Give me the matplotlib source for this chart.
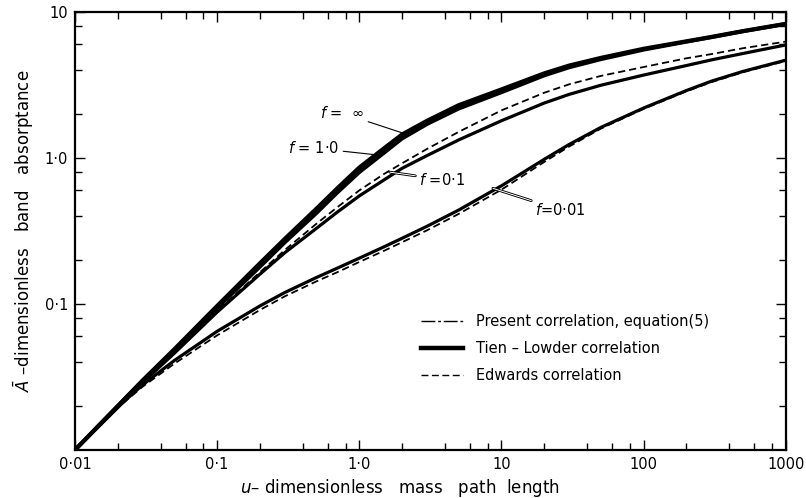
"""Band absorptance vs mass path length: present correlation vs Tien-Lowder and Edwards."""

import matplotlib

matplotlib.use("Agg")
import matplotlib.pyplot as plt
import matplotlib.patheffects as pe
from matplotlib.lines import Line2D
from matplotlib.ticker import FixedLocator, LogLocator, NullFormatter

# dimensionless mass path length u
U = [0.01, 0.02, 0.03, 0.05, 0.1, 0.2, 0.3, 0.5, 0.7, 1, 1.5, 2, 3, 5, 10, 20, 30, 50, 100, 200, 300, 500, 1000]

# band absorptance
A_F_INF = [0.01, 0.02, 0.03, 0.049, 0.097, 0.19, 0.28, 0.45, 0.62, 0.86, 1.17, 1.45, 1.8, 2.3,
           2.95, 3.8, 4.3, 4.85, 5.6, 6.3, 6.75, 7.4, 8.3]
A_F_1 = [0.01, 0.02, 0.03, 0.048, 0.094, 0.18, 0.265, 0.42, 0.58, 0.8, 1.09, 1.36, 1.71, 2.18,
         2.82, 3.68, 4.18, 4.75, 5.52, 6.26, 6.72, 7.38, 8.28]
A_F_01_EDWARDS = [0.01, 0.0195, 0.029, 0.047, 0.09, 0.165, 0.235, 0.355, 0.46, 0.6, 0.78, 0.92, 1.155, 1.51,
                  2.12, 2.8, 3.2, 3.65, 4.2, 4.82, 5.15, 5.65, 6.27]
A_F_01 = [0.01, 0.0195, 0.029, 0.046, 0.088, 0.16, 0.225, 0.33, 0.426, 0.55, 0.71, 0.85, 1.04, 1.33,
          1.8, 2.38, 2.73, 3.15, 3.7, 4.3, 4.7, 5.2, 5.95]
A_F_001 = [0.01, 0.0197, 0.028, 0.041, 0.065, 0.097, 0.12, 0.152, 0.176, 0.206, 0.247, 0.282, 0.341, 0.44,
           0.645, 0.98, 1.24, 1.62, 2.2, 2.9, 3.36, 3.92, 4.68]
A_F_001_EDWARDS = [0.01, 0.0195, 0.0272, 0.039, 0.061, 0.091, 0.113, 0.143, 0.165, 0.194, 0.232, 0.265, 0.32, 0.414,
                   0.607, 0.94, 1.2, 1.59, 2.17, 2.86, 3.31, 3.87, 4.62]

X_TICKS = [0.01, 0.1, 1, 10, 100, 1000]
X_TICK_LABELS = ["0·01", "0·1", "1·0", "10", "100", "1000"]
Y_TICKS = [0.1, 1, 10]
Y_TICK_LABELS = ["0·1", "1·0", "10"]

LEGEND_LABELS = ["Present correlation, equation(5)", "Tien – Lowder correlation", "Edwards correlation"]


def label_curve(ax, text, xy, xytext, ha, double=False):
    ann = ax.annotate(text, xy=xy, xytext=xytext, fontsize=10.5, va="center", ha=ha,
                      arrowprops=dict(arrowstyle="-", color="black",
                                      linewidth=2.0 if double else 0.8,
                                      shrinkA=1, shrinkB=0))
    if double:
        # white core gives the drawn double leader line
        ann.arrow_patch.set_path_effects([pe.Normal(), pe.Stroke(linewidth=0.7, foreground="white")])
    return ann


def main():
    plt.rcParams["font.family"] = "DejaVu Sans"
    fig = plt.figure(figsize=(8.06, 4.98), dpi=100)
    ax = fig.add_axes([0.093, 0.0964, 0.882, 0.8795])

    ax.set_xscale("log")
    ax.set_yscale("log")
    ax.set_xlim(0.01, 1000)
    ax.set_ylim(0.01, 10)

    # thick band: f = inf and f = 1.0
    ax.plot(U, A_F_INF, color="black", linewidth=3.0, solid_capstyle="butt", solid_joinstyle="round")
    ax.plot(U, A_F_1, color="black", linewidth=2.8, solid_capstyle="butt", solid_joinstyle="round")
    # f = 0.1
    ax.plot(U, A_F_01_EDWARDS, color="black", linewidth=1.3, dashes=(4, 2.2))
    ax.plot(U, A_F_01, color="black", linewidth=2.3, solid_joinstyle="round")
    # f = 0.01
    ax.plot(U, A_F_001, color="black", linewidth=2.3, solid_joinstyle="round")
    ax.plot(U, A_F_001_EDWARDS, color="black", linewidth=1.3, dashes=(4, 2.2))

    ax.xaxis.set_major_locator(FixedLocator(X_TICKS))
    ax.set_xticklabels(X_TICK_LABELS)
    ax.yaxis.set_major_locator(FixedLocator(Y_TICKS))
    ax.set_yticklabels(Y_TICK_LABELS)
    for axis in (ax.xaxis, ax.yaxis):
        axis.set_minor_locator(LogLocator(base=10, subs=(2, 4, 6, 8)))
        axis.set_minor_formatter(NullFormatter())
    ax.tick_params(which="both", direction="in", top=True, right=True, width=1.0, labelsize=10.5)
    ax.tick_params(which="major", length=7)
    ax.tick_params(which="minor", length=5)
    ax.tick_params(axis="x", which="major", pad=5)
    ax.tick_params(axis="y", which="major", pad=5)
    for spine in ax.spines.values():
        spine.set_linewidth(1.6)

    ax.set_xlabel("$u$– dimensionless   mass   path  length", fontsize=12, labelpad=4,
                  x=0.457, ha="center")
    ax.set_ylabel(r"$\bar{A}$ –dimensionless   band   absorptance", fontsize=12, labelpad=6)

    # curve annotations with leader lines
    label_curve(ax, "$f$ =  ∞", (2.03, 1.48), (1.08, 2.03), "right")
    label_curve(ax, "$f$ = 1·0", (1.33, 1.05), (0.72, 1.17), "right")
    label_curve(ax, "$f$ =0·1", (1.64, 0.8), (2.65, 0.71), "left", double=True)
    label_curve(ax, "$f$=0·01", (8.7, 0.62), (17.3, 0.44), "left", double=True)

    handles = [
        Line2D([], [], color="black", linewidth=1.0, dashes=(10, 2, 2, 2)),
        Line2D([], [], color="black", linewidth=3.2),
        Line2D([], [], color="black", linewidth=1.0, dashes=(5, 2.5)),
    ]
    ax.legend(handles, LEGEND_LABELS, loc="lower left", bbox_to_anchor=(0.472, 0.13),
              frameon=False, fontsize=10.5, handlelength=2.9, handletextpad=0.9,
              labelspacing=0.82, borderpad=0.2)

    fig.savefig("out.png", dpi=100)
    plt.close(fig)


if __name__ == "__main__":
    main()
